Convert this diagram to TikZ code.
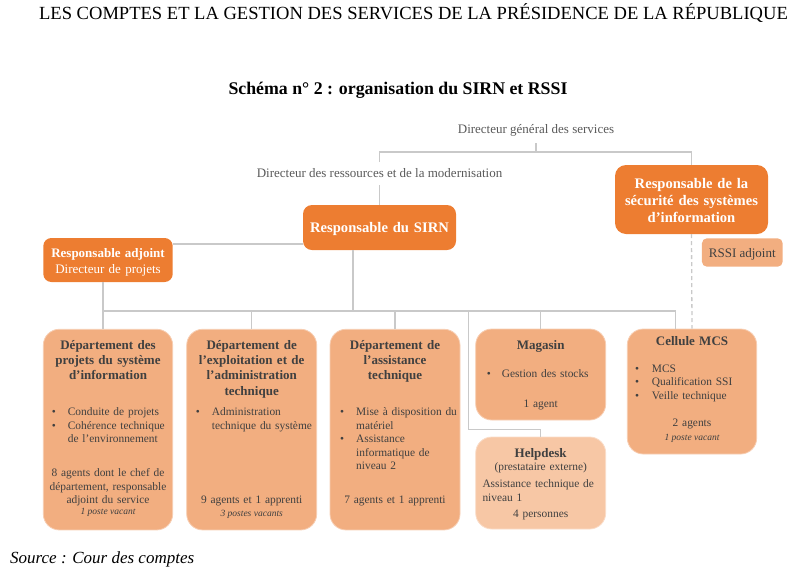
\documentclass[tikz,border=0pt]{standalone}
\usepackage{fontspec}
\setmainfont{Liberation Serif}
\definecolor{dorange}{HTML}{ED7D31}
\definecolor{lorange}{HTML}{F2AE80}
\definecolor{xorange}{HTML}{F7C7A5}
\definecolor{lgray}{HTML}{C9C9C9}
\definecolor{tgray}{HTML}{404040}
\definecolor{mgray}{HTML}{595959}
\newcommand{\mybul}{\makebox[16pt][l]{\textbullet}}
\tikzset{
  dbox/.style={fill=dorange, rounded corners=9pt, inner sep=0pt},
  lbox/.style={fill=lorange, draw=lorange!60!white, line width=0.8pt, rounded corners=16pt, inner sep=0pt},
  conn/.style={draw=lgray, line width=1.3pt},
  dconn/.style={draw=lgray, line width=1.3pt, dash pattern=on 4pt off 3pt},
  wtitle/.style={text=white, inner sep=0pt, anchor=base, align=center, text width=150pt, font=\fontsize{14.6}{17.2}\selectfont\bfseries},
  ttl/.style={text=tgray, inner sep=0pt, anchor=base, align=center, text width=126pt, font=\fontsize{13}{15.2}\selectfont\bfseries},
  bod/.style={text=tgray, inner sep=0pt, anchor=base, align=center, text width=126pt, font=\fontsize{11.4}{13.3}\selectfont},
  bul/.style={text=tgray, inner sep=0pt, anchor=base west, align=left, text width=140pt, font=\fontsize{11.4}{13.5}\selectfont},
  vac/.style={text=tgray, inner sep=0pt, anchor=base, font=\fontsize{9.5}{11}\selectfont\itshape},
  lab/.style={text=mgray, inner sep=0pt, anchor=base, font=\fontsize{13}{15}\selectfont},
}
\begin{document}
\begin{tikzpicture}[x=1pt,y=-1pt]
\useasboundingbox (0,0) rectangle (799,576);

% headings
\node[inner sep=0pt, anchor=base, font=\fontsize{18.55}{20}\selectfont] (head) at (413.5,19) {LES COMPTES ET LA GESTION DES SERVICES DE LA PRÉSIDENCE DE LA RÉPUBLIQUE};
\node[inner sep=0pt, anchor=base, font=\fontsize{17.8}{20}\selectfont\bfseries] (title) at (398,94) {Schéma n° 2 : organisation du SIRN et RSSI};
\node[inner sep=0pt, anchor=base west, font=\fontsize{17}{19}\selectfont\itshape] (src) at (10,563) {Source : Cour des comptes};

% top labels
\node[lab] (dg) at (536,133.5) {Directeur général des services};
\node[lab] (drm) at (379.5,177) {Directeur des ressources et de la modernisation};

% dark boxes
\node[dbox, minimum width=153pt, minimum height=45pt] (sirn) at (379.5,227.5) {};
\node[wtitle] (sirnt) at (379.5,232.5) {Responsable du SIRN};
\node[dbox, rounded corners=11pt, minimum width=153pt, minimum height=69pt] (rssi) at (691.5,199.5) {};
\node[wtitle] (rssit) at (691.5,188.5) {Responsable de la\\sécurité des systèmes\\d’information};
\node[dbox, rounded corners=8pt, minimum width=129.4pt, minimum height=44pt] (adj) at (108,260) {};
\node[inner sep=0pt, anchor=base, align=center, text width=128pt, text=white, font=\fontsize{13}{16}\selectfont] (adjt) at (108,257.5) {\textbf{Responsable adjoint}\\Directeur de projets};
\node[fill=lorange, rounded corners=5pt, inner sep=0pt, minimum width=80.7pt, minimum height=28.4pt] (rssia) at (742.3,252.5) {};
\node[inner sep=0pt, anchor=base, text=tgray, font=\fontsize{13}{15}\selectfont] (rssiat) at (742.3,257) {RSSI adjoint};

% department boxes
\node[lbox, minimum width=129.4pt, minimum height=200.7pt] (d1) at (108,429.6) {};
\node[ttl] (d1t) at (108,349.5) {Département des\\projets du système\\d’information};
\node[bul] (d1b) at (51.7,415.5) {\mybul Conduite de projets\\\mybul Cohérence technique\\\hspace*{16pt}de l’environnement};
\node[bod, text width=128pt] (d1a) at (108,476.8) {8 agents dont le chef de\\département, responsable\\adjoint du service};
\node[vac] (d1v) at (108,514.7) {1 poste vacant};

\node[lbox, minimum width=130pt, minimum height=200.7pt] (d2) at (251.7,429.6) {};
\node[ttl] (d2t) at (251.7,349.5) {Département de\\l’exploitation et de\\l’administration\\technique};
\node[bul] (d2b) at (195.7,415.5) {\mybul Administration\\\hspace*{16pt}technique du système};
\node[bod] (d2a) at (251.7,503.8) {9 agents et 1 apprenti};
\node[vac] (d2v) at (251.7,516.3) {3 postes vacants};

\node[lbox, minimum width=130pt, minimum height=200.7pt] (d3) at (395,429.6) {};
\node[ttl] (d3t) at (395,349.5) {Département de\\l’assistance\\technique};
\node[bul] (d3b) at (340,415.5) {\mybul Mise à disposition du\\\hspace*{16pt}matériel\\\mybul Assistance\\\hspace*{16pt}informatique de\\\hspace*{16pt}niveau 2};
\node[bod] (d3a) at (395,503.8) {7 agents et 1 apprenti};

\node[lbox, minimum width=130pt, minimum height=91pt] (mag) at (540.7,374.5) {};
\node[ttl] (magt) at (540.7,349.5) {Magasin};
\node[bul] (magb) at (486.7,377) {\makebox[15pt][l]{\textbullet}Gestion des stocks};
\node[bod] (maga) at (540.7,407) {1 agent};

\node[lbox, fill=xorange, draw=xorange!60!white, minimum width=130pt, minimum height=92pt] (help) at (540.7,483) {};
\node[ttl] (helpt) at (540.7,457.5) {Helpdesk};
\node[bod] (helpp) at (540.7,470.5) {(prestataire externe)};
\node[bul] (helpb) at (482.3,487.8) {Assistance technique de\\niveau 1};
\node[bod] (helpa) at (540.7,517) {4 personnes};

\node[lbox, minimum width=129.4pt, minimum height=125pt] (cel) at (692,391.5) {};
\node[ttl] (celt) at (692,345) {Cellule MCS};
\node[bul, font=\fontsize{11.4}{13.7}\selectfont] (celb) at (635,372) {\makebox[16.7pt][l]{\textbullet}MCS\\\makebox[16.7pt][l]{\textbullet}Qualification SSI\\\makebox[16.7pt][l]{\textbullet}Veille technique};
\node[bod] (cela) at (692,426.5) {2 agents};
\node[vac] (celv) at (692,440.3) {1 poste vacant};

% connectors
\coordinate (dgs) at (536,143);
\coordinate (tJ) at (536,152);
\coordinate (tL) at (379.5,152);
\coordinate (tR) at (691.5,152);
\coordinate (tLd) at (379.5,162);
\coordinate (drs) at (379.5,185);
\coordinate (hA) at (172.7,244);
\coordinate (hS) at (303,244);
\coordinate (sB) at (353,250);
\coordinate (bS) at (353,311);
\coordinate (bL) at (103,311);
\coordinate (bR) at (675.7,311);
\coordinate (aB) at (103,282);
\coordinate (d1T) at (103,329.3);
\coordinate (b2) at (251.7,311);
\coordinate (b3) at (395,311);
\coordinate (bh) at (468.3,311);
\coordinate (hc) at (468.3,429.3);
\coordinate (hc2) at (540.7,429.3);
\coordinate (bm) at (540.7,311);
\coordinate (cT) at (675.7,329);

\draw[conn] (dgs) -- (tJ);
\draw[conn] (tLd) -- (tL) -- (tR) -- (rssi.north);
\draw[conn] (drs) -- (sirn.north);
\draw[conn] (hA) -- (hS);
\draw[conn] (sB) -- (bS);
\draw[conn] (aB) -- (d1T);
\draw[conn] (bL) -- (bR) -- (cT);
\draw[conn] (b2) -- (d2.north);
\draw[conn] (b3) -- (d3.north);
\draw[conn] (bm) -- (mag.north);
\draw[conn] (bh) -- (hc) -- (hc2) -- (help.north);
\draw[dconn] (rssi.south) -- (cel.north);
\end{tikzpicture}
\end{document}
